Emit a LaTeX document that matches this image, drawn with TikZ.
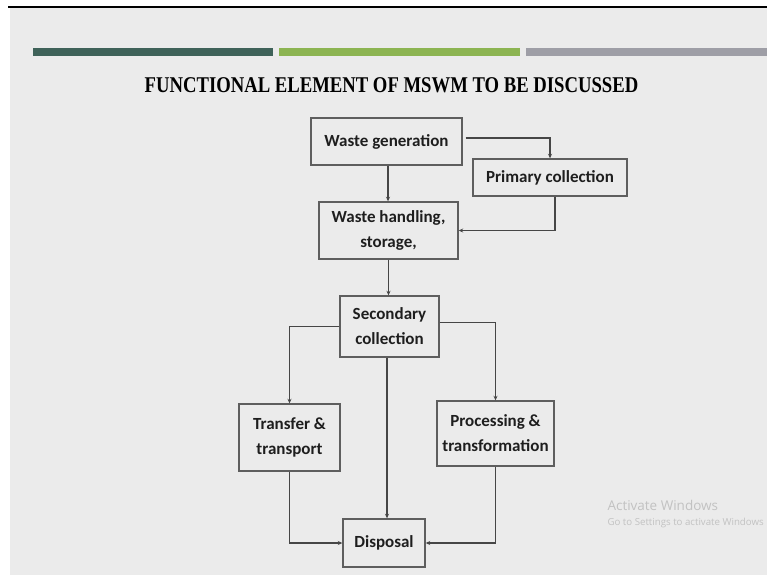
\documentclass[tikz,border=0pt]{standalone}
\usepackage{fontspec}
\setmainfont{Liberation Serif}
\setsansfont{Carlito}
\newfontfamily\winfont{Open Sans}
\usetikzlibrary{arrows.meta}
\definecolor{slidebg}{HTML}{EBEBEB}
\definecolor{barone}{HTML}{3F6259}
\definecolor{bartwo}{HTML}{8CB452}
\definecolor{barthree}{HTML}{9E9EA6}
\definecolor{boxline}{HTML}{5E5E5E}
\definecolor{linkcol}{HTML}{464646}
\definecolor{boxtext}{HTML}{1E1E1E}
\definecolor{wmark}{HTML}{C2C2C2}

\begin{document}
\begin{tikzpicture}[x=1pt,y=-1pt,>={Stealth[length=4.5pt,width=4pt]},
        box/.style={draw=boxline,line width=1.4pt,fill=slidebg,align=center,text=boxtext,
            font=\sffamily\bfseries\fontsize{17}{25}\selectfont,inner sep=2pt},
        link/.style={->,draw=linkcol,line width=1.1pt}]
    \useasboundingbox (0,0) rectangle (767,575);
    \fill[slidebg] (10,8) rectangle (767,575);
    \draw[line width=2pt] (8,7) -- (767,7);
    \fill[barone] (33,48) rectangle (273,56);
    \fill[bartwo] (279,48) rectangle (520,56);
    \fill[barthree] (526,48) rectangle (767,56);

    \node[font=\bfseries\fontsize{22.5}{26}\selectfont] (title) at (391.5,85.5)
        {\scalebox{0.83}[1]{FUNCTIONAL ELEMENT OF MSWM TO BE DISCUSSED}};

    \node[box,minimum width=151pt,minimum height=47pt] (wg) at (386.5,141.5) {Waste generation};
    \node[box,minimum width=154pt,minimum height=37pt] (pc) at (550,177.5) {Primary collection};
    \node[box,minimum width=139pt,minimum height=57pt] (wh) at (388.5,230.5) {Waste handling,\\storage,};
    \node[box,minimum width=99pt,minimum height=61pt] (sc) at (389.5,326.5) {Secondary\\collection};
    \node[box,minimum width=101pt,minimum height=67pt] (tr) at (289.5,437.5) {Transfer \&\\transport};
    \node[box,minimum width=117pt,minimum height=65pt] (pt) at (495.5,433.5) {Processing \&\\transformation};
    \node[box,minimum width=82pt,minimum height=48pt] (ds) at (384,543) {Disposal};

    \draw[link] ([xshift=3pt,yshift=3.5pt]wg.east) -| (pc.north);
    \draw[link] ([xshift=5pt]pc.south) |- (wh.east);
    \draw[link] ([xshift=1.5pt]wg.south) -- ([xshift=1.5pt]wg.south |- wh.north);
    \draw[link] (wh.south) -- (wh.south |- sc.north);
    \draw[link] (sc.west) -| (tr.north);
    \draw[link] ([yshift=4pt]sc.east) -| (pt.north);
    \draw[link] ([xshift=-2.5pt]sc.south) -- ([xshift=-2.5pt]sc.south |- ds.north);
    \draw[link] (tr.south) |- (ds.west);
    \draw[link] (pt.south) |- (ds.east);

    \node[anchor=west,text=wmark,font=\winfont\fontsize{13.5}{16}\selectfont] (act) at (604,505) {Activate Windows};
    \node[anchor=west,text=wmark,font=\winfont\fontsize{9.7}{11}\selectfont] (go) at (604,523) {Go to Settings to activate Windows};
\end{tikzpicture}
\end{document}
